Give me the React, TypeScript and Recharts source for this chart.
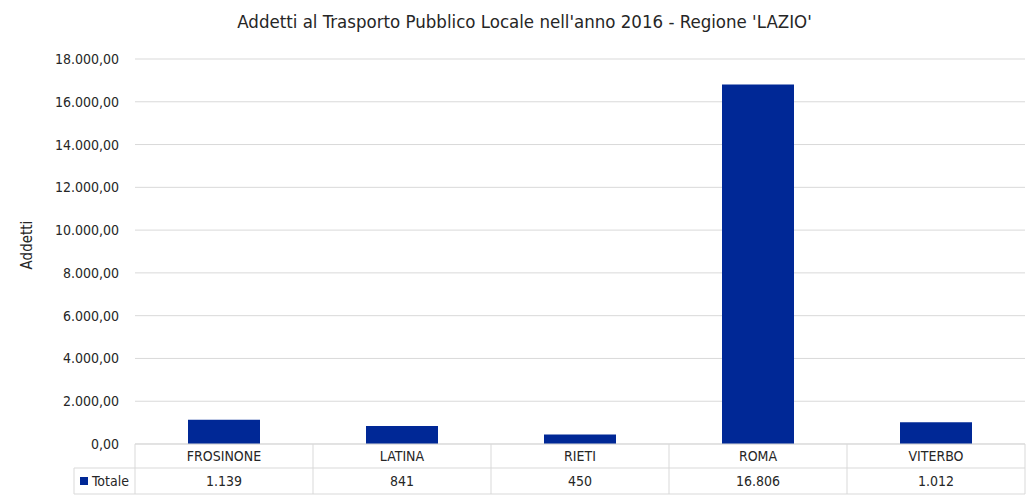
import React from 'react';
import { BarChart, Bar, XAxis, YAxis, CartesianGrid, Customized } from 'recharts';

const province = ['FROSINONE', 'LATINA', 'RIETI', 'ROMA', 'VITERBO'];
const addetti = [1139, 841, 450, 16806, 1012];
const yTicks = [0, 2000, 4000, 6000, 8000, 10000, 12000, 14000, 16000, 18000];

const data = province.map((p, i) => ({ name: p, totale: addetti[i] }));

const FONT = '"Liberation Sans Narrow", "DejaVu Sans Condensed", "Roboto", sans-serif';
const BAR = '#002896';
const GRID = '#d9d9d9';
const TEXT = '#262626';

const W = 1029;
const H = 495;
const margin = { top: 59, right: 4, bottom: 51, left: 135 };

const fmtAxis = (v: number) =>
    v.toLocaleString('de-DE', { minimumFractionDigits: 2, maximumFractionDigits: 2 });
const fmtVal = (v: number) => v.toLocaleString('de-DE');

const TableTick = (props: any) => {
    const { x, y, payload, index, band } = props;
    const half = band / 2;
    const top = y - 8;
    const mid = top + 24;
    const bot = top + 50;
    return (
        <g>
            <line x1={x + half} y1={top} x2={x + half} y2={bot} stroke={GRID} />
            {index === 0 && <line x1={x - half} y1={top} x2={x - half} y2={bot} stroke={GRID} />}
            <line x1={x - half} y1={mid} x2={x + half} y2={mid} stroke={GRID} />
            <line x1={x - half} y1={bot} x2={x + half} y2={bot} stroke={GRID} />
            <text x={x} y={top + 17} textAnchor="middle" fontSize={14} fill={TEXT} fontFamily={FONT}>
                {payload.value}
            </text>
            <text x={x} y={mid + 18} textAnchor="middle" fontSize={14} fill={TEXT} fontFamily={FONT}>
                {fmtVal(addetti[index])}
            </text>
        </g>
    );
};

const LegendCell = () => {
    const left = 74;
    const right = margin.left;
    const top = H - margin.bottom + 24;
    const bot = top + 26;
    return (
        <g>
            <line x1={left} y1={top} x2={right} y2={top} stroke={GRID} />
            <line x1={left} y1={bot} x2={right} y2={bot} stroke={GRID} />
            <line x1={left} y1={top} x2={left} y2={bot} stroke={GRID} />
            <rect x={left + 6} y={top + 9} width={8} height={8} fill={BAR} />
            <text x={left + 18} y={top + 18} fontSize={14} fill={TEXT} fontFamily={FONT}>
                Totale
            </text>
        </g>
    );
};

export default function App() {
    const band = (W - margin.left - margin.right) / province.length;
    return (
        <div style={{ position: 'absolute', left: 0, top: 0, width: W, height: H, background: '#fff' }}>
            <div
                style={{
                    position: 'absolute',
                    top: 11,
                    left: 10,
                    width: W,
                    textAlign: 'center',
                    fontFamily: FONT,
                    fontSize: 18.5,
                    color: TEXT,
                }}
            >
                Addetti al Trasporto Pubblico Locale nell'anno 2016 - Regione 'LAZIO'
            </div>
            <div
                style={{
                    position: 'absolute',
                    left: 27,
                    top: 245,
                    transform: 'translate(-50%, -50%) rotate(-90deg)',
                    fontFamily: FONT,
                    fontSize: 15,
                    color: TEXT,
                    whiteSpace: 'nowrap',
                }}
            >
                Addetti
            </div>
            <BarChart width={W} height={H} data={data} margin={{ top: margin.top, right: margin.right, bottom: 0, left: 0 }}>
                <CartesianGrid vertical={false} stroke={GRID} />
                <XAxis
                    dataKey="name"
                    axisLine={{ stroke: GRID }}
                    tickLine={false}
                    interval={0}
                    height={margin.bottom}
                    tick={(p: any) => <TableTick {...p} band={band} />}
                />
                <YAxis
                    domain={[0, 18000]}
                    ticks={yTicks}
                    axisLine={false}
                    tickLine={false}
                    width={margin.left}
                    tickMargin={10}
                    tickFormatter={fmtAxis}
                    tick={{ fontSize: 14, fill: TEXT, fontFamily: FONT }}
                />
                <Bar dataKey="totale" fill={BAR} barSize={72} isAnimationActive={false} />
                <Customized component={LegendCell} />
            </BarChart>
        </div>
    );
}
